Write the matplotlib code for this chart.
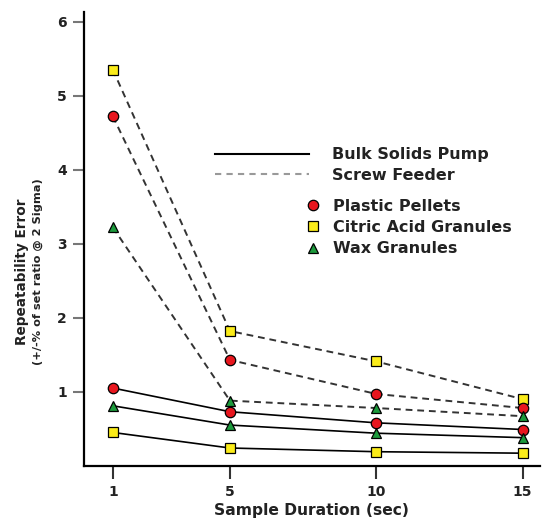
import matplotlib
matplotlib.use("Agg")
import matplotlib.pyplot as plt
from matplotlib.lines import Line2D

plt.rcParams["font.family"] = ["DejaVu Sans"]
plt.rcParams["font.weight"] = "bold"

# Sample duration (sec)
durations = [1, 5, 10, 15]

# Bulk Solids Pump (solid lines)
pump_pellets = [1.05, 0.73, 0.58, 0.49]
pump_citric = [0.45, 0.24, 0.19, 0.17]
pump_wax = [0.81, 0.55, 0.44, 0.38]

# Screw Feeder (dashed lines)
screw_pellets = [4.72, 1.43, 0.97, 0.78]
screw_citric = [5.35, 1.82, 1.41, 0.90]
screw_wax = [3.22, 0.88, 0.78, 0.67]

RED = "#e8161e"
YELLOW = "#fbec1a"
GREEN = "#1c9a3c"
TXT = "#222222"

fig = plt.figure(figsize=(5.5, 5.21), dpi=100)
ax = fig.add_axes([0.152, 0.106, 0.83, 0.871])

marker_kw = dict(markeredgecolor="black", markeredgewidth=0.9, markersize=7.5)
dash_kw = dict(color="#333333", lw=1.4, dashes=(3.5, 2.5))
solid_kw = dict(color="black", lw=1.2)

# screw feeder
ax.plot(durations, screw_citric, marker="s", markerfacecolor=YELLOW, **dash_kw, **marker_kw)
ax.plot(durations, screw_pellets, marker="o", markerfacecolor=RED, **dash_kw, **marker_kw)
ax.plot(durations, screw_wax, marker="^", markerfacecolor=GREEN, **dash_kw, **marker_kw)

# bulk solids pump
ax.plot(durations, pump_pellets, marker="o", markerfacecolor=RED, **solid_kw, **marker_kw)
ax.plot(durations, pump_wax, marker="^", markerfacecolor=GREEN, **solid_kw, **marker_kw)
ax.plot(durations, pump_citric, marker="s", markerfacecolor=YELLOW, **solid_kw, **marker_kw)

ax.set_xlim(0, 15.6)
ax.set_ylim(0, 6.13)
ax.set_xticks(durations)
ax.set_yticks([1, 2, 3, 4, 5, 6])
ax.tick_params(axis="y", length=8, width=1.5, color="#777777", labelsize=10, labelcolor=TXT, pad=4)
ax.tick_params(axis="x", length=9, width=1.5, color="#333333", labelsize=10, labelcolor=TXT, pad=5)
for lab in ax.get_xticklabels() + ax.get_yticklabels():
    lab.set_fontweight("bold")

for side in ["top", "right"]:
    ax.spines[side].set_visible(False)
for side in ["left", "bottom"]:
    ax.spines[side].set_linewidth(1.6)

ax.set_xlabel("Sample Duration (sec)", fontsize=11.2, fontweight="bold", color=TXT, labelpad=3)
fig.text(0.04, 0.478, "Repeatability Error", rotation=90, ha="center", va="center",
         fontsize=9.8, fontweight="bold", color=TXT)
fig.text(0.068, 0.478, "(+/-% of set ratio @ 2 Sigma)", rotation=90, ha="center", va="center",
         fontsize=8.2, fontweight="bold", color=TXT)

# legend: line styles
style_handles = [
    Line2D([], [], color="black", lw=1.5),
    Line2D([], [], color="#999999", lw=1.5, dashes=(3, 2.5)),
]
leg1 = ax.legend(style_handles, ["Bulk Solids Pump", "Screw Feeder"],
                 loc="upper left", bbox_to_anchor=(0.391, 0.717), bbox_transform=fig.transFigure,
                 frameon=False, fontsize=11.5, handlelength=5.9, handletextpad=1.45,
                 labelspacing=0.35, borderpad=0, borderaxespad=0, labelcolor=TXT)
for t in leg1.get_texts():
    t.set_fontweight("bold")
ax.add_artist(leg1)

# legend: materials
mat_handles = [
    Line2D([], [], ls="none", marker="o", markerfacecolor=RED, **marker_kw),
    Line2D([], [], ls="none", marker="s", markerfacecolor=YELLOW, **marker_kw),
    Line2D([], [], ls="none", marker="^", markerfacecolor=GREEN, **marker_kw),
]
leg2 = ax.legend(mat_handles, ["Plastic Pellets", "Citric Acid Granules", "Wax Granules"],
                 loc="upper left", bbox_to_anchor=(0.5545, 0.619), bbox_transform=fig.transFigure,
                 frameon=False, fontsize=11.5, handlelength=1.0, handletextpad=0.75,
                 labelspacing=0.4, borderpad=0, borderaxespad=0, labelcolor=TXT)
for t in leg2.get_texts():
    t.set_fontweight("bold")

fig.savefig("out.png", dpi=100)
